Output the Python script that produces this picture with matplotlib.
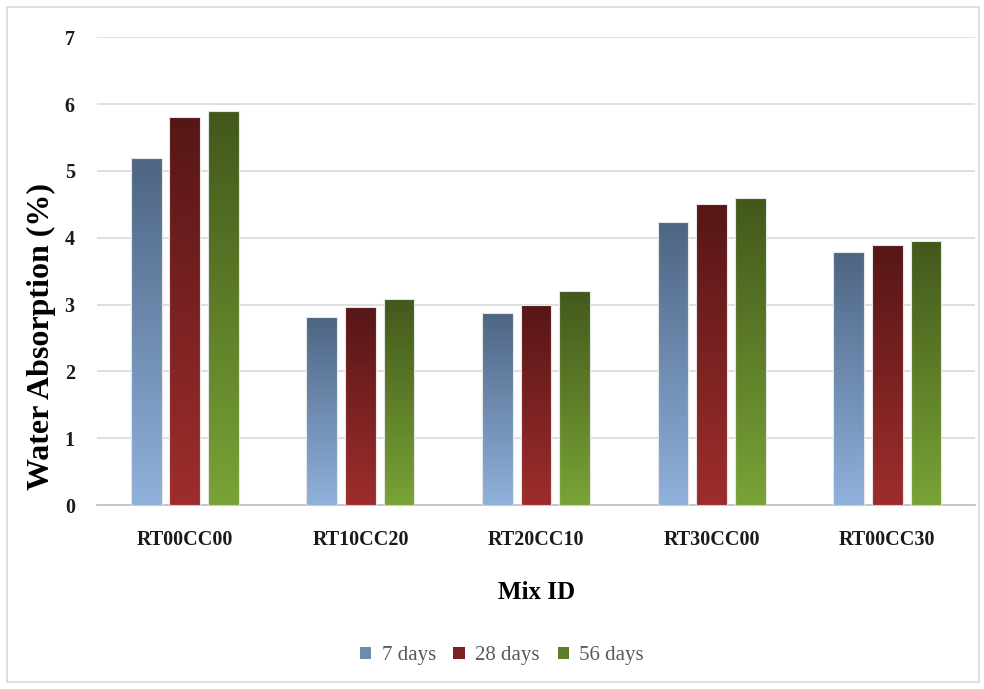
import numpy as np
import matplotlib.pyplot as plt
from matplotlib.colors import LinearSegmentedColormap, to_rgb
from matplotlib.patches import Rectangle, Patch

# Water absorption of each mix at three curing ages
mixes = ["RT00CC00", "RT10CC20", "RT20CC10", "RT30CC00", "RT00CC30"]
ages = ["7 days", "28 days", "56 days"]
absorption_7 = [5.20, 2.81, 2.88, 4.23, 3.78]
absorption_28 = [5.80, 2.96, 2.99, 4.50, 3.89]
absorption_56 = [5.90, 3.09, 3.21, 4.59, 3.95]
series = [absorption_7, absorption_28, absorption_56]

# (top colour, bottom colour) for the gradient fill of each series
shades = [("#4d6482", "#8fb1dc"), ("#561616", "#9e2d2d"), ("#42571b", "#79a336")]

serif = ["Liberation Serif", "DejaVu Serif"]

fig = plt.figure(figsize=(9.84, 6.89), dpi=100)
ax = fig.add_axes([0.0986, 0.267, 0.8924, 0.679])

x = np.arange(len(mixes))
width = 0.175
step = 0.22
grad = np.linspace(0, 1, 256).reshape(-1, 1)

for i, vals in enumerate(series):
    cmap = LinearSegmentedColormap.from_list("g%d" % i, [shades[i][1], shades[i][0]])
    for xi, v in zip(x, vals):
        left = xi + (i - 1) * step - width / 2
        bar = Rectangle((left, 0), width, v, facecolor="none",
                        edgecolor="#e6e6e6", linewidth=0.8, zorder=4)
        ax.add_patch(bar)
        img = ax.imshow(grad, cmap=cmap, origin="lower", aspect="auto",
                        extent=[left - 0.01, left + width + 0.01, 0, v + 0.05],
                        zorder=3, interpolation="bicubic")
        img.set_clip_path(bar)

ax.set_xlim(-0.5, len(mixes) - 0.5)
ax.set_ylim(0, 7)
ax.set_yticks(range(0, 8))
ax.set_xticks(x)
ax.set_xticklabels(mixes)

ax.grid(axis="y", color="#d9d9d9", linewidth=1.2, zorder=0)
ax.set_axisbelow(True)
for s in ["top", "right", "left"]:
    ax.spines[s].set_visible(False)
ax.spines["bottom"].set_color("#bfbfbf")
ax.spines["bottom"].set_linewidth(1.2)
ax.tick_params(length=0)
ax.tick_params(axis="y", pad=16)
ax.tick_params(axis="x", pad=18)

for lab in ax.get_yticklabels() + ax.get_xticklabels():
    lab.set_fontfamily(serif)
    lab.set_fontweight("bold")
    lab.set_fontsize(14.5)
    lab.set_color("#1a1a1a")

ax.set_ylabel("Water Absorption (%)", fontfamily=serif, fontweight="bold",
              fontsize=23)
ax.yaxis.set_label_coords(-0.047, 0.36)
ax.set_xlabel("Mix ID", fontfamily=serif, fontweight="bold", fontsize=18,
              labelpad=22)

handles = [Patch(facecolor=np.mean([to_rgb(c) for c in sh], axis=0),
                 edgecolor="none") for sh in shades]
leg = fig.legend(handles, ages, loc="center", bbox_to_anchor=(0.51, 0.048),
                 ncol=3, frameon=False, handlelength=0.55, handleheight=0.55,
                 columnspacing=0.85, handletextpad=0.5,
                 prop={"family": serif, "size": 15})
for t in leg.get_texts():
    t.set_color("#595959")

# light border round the whole chart
fig.patches.append(Rectangle((0.007, 0.01), 0.988, 0.98, transform=fig.transFigure,
                             fill=False, edgecolor="#d9d9d9", linewidth=1.2))

fig.savefig("out.png", dpi=100)
